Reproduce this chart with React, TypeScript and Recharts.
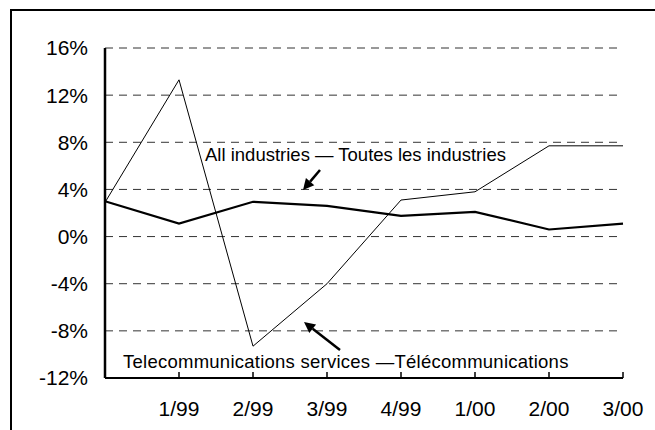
import React from "react";
import { LineChart, Line, XAxis, YAxis, CartesianGrid } from "recharts";

const quarters = ["", "1/99", "2/99", "3/99", "4/99", "1/00", "2/00", "3/00"];
const allIndustries = [3.0, 1.1, 2.95, 2.6, 1.75, 2.1, 0.6, 1.1];
const telecom = [2.9, 13.3, -9.3, -4.0, 3.1, 3.8, 7.7, 7.7];
const yTicks = [-12, -8, -4, 0, 4, 8, 12, 16];

const data = quarters.map((q, i) => ({ q, all: allIndustries[i], tel: telecom[i] }));

const FONT = '"Liberation Sans", Arial, sans-serif';

const XTick = (props: any) => {
  const { x, y, payload } = props;
  return (
    <g>
      <line x1={x} x2={x} y1={y} y2={y - 6} stroke="#000" strokeWidth={1.5} />
      <text x={x} y={y + 38} textAnchor="middle" fontSize={21} fontFamily={FONT} fill="#000">
        {payload.value}
      </text>
    </g>
  );
};

function Arrow({ tx, ty, px, py }: { tx: number; ty: number; px: number; py: number }) {
  const dx = px - tx;
  const dy = py - ty;
  const len = Math.sqrt(dx * dx + dy * dy);
  const ux = dx / len;
  const uy = dy / len;
  const L = 11;
  const w = 5.5;
  const bx = px - ux * L;
  const by = py - uy * L;
  const nx = -uy;
  const ny = ux;
  return (
    <g>
      <line x1={tx} y1={ty} x2={bx} y2={by} stroke="#000" strokeWidth={2.5} />
      <polygon
        points={`${px},${py} ${bx + nx * w},${by + ny * w} ${bx - nx * w},${by - ny * w}`}
        fill="#000"
      />
    </g>
  );
}

export default function App() {
  return (
    <div style={{ position: "absolute", left: 0, top: 0, width: 655, height: 430, overflow: "hidden", background: "#fff" }}>
      <div
        style={{
          position: "absolute",
          left: 10,
          top: 9,
          width: 700,
          height: 500,
          borderLeft: "2px solid #000",
          borderTop: "2px solid #000",
        }}
      />
      <div style={{ position: "absolute", left: 0, top: 0 }}>
        <LineChart width={655} height={430} data={data} margin={{ top: 48, right: 32, bottom: 0, left: 0 }}>
          <CartesianGrid vertical={false} stroke="#333" strokeDasharray="8 6" />
          <XAxis
            dataKey="q"
            interval={0}
            tickLine={false}
            tickSize={0}
            tickMargin={0}
            height={52}
            tick={<XTick />}
            axisLine={{ stroke: "#000", strokeWidth: 2 }}
          />
          <YAxis
            width={105}
            domain={[-12, 16]}
            ticks={yTicks}
            interval={0}
            tickLine={false}
            tickSize={0}
            tickMargin={17}
            tickFormatter={(v: number) => `${v}%`}
            tick={{ fontSize: 21, fontFamily: FONT, fill: "#000" }}
            axisLine={{ stroke: "#000", strokeWidth: 2.5 }}
          />
          <Line type="linear" dataKey="tel" stroke="#000" strokeWidth={1} dot={false} isAnimationActive={false} />
          <Line type="linear" dataKey="all" stroke="#000" strokeWidth={2.2} dot={false} isAnimationActive={false} />
        </LineChart>
      </div>
      <svg width={655} height={430} style={{ position: "absolute", left: 0, top: 0, pointerEvents: "none" }}>
        <text x={205} y={161} fontSize={18.5} fontFamily={FONT} fill="#000">
          All industries — Toutes les industries
        </text>
        <Arrow tx={320} ty={170} px={303} py={190} />
        <text x={123} y={368} fontSize={18.5} fontFamily={FONT} fill="#000" letterSpacing={0.25}>
          Telecommunications services —Télécommunications
        </text>
        <Arrow tx={340} ty={350} px={304} py={322} />
      </svg>
    </div>
  );
}
